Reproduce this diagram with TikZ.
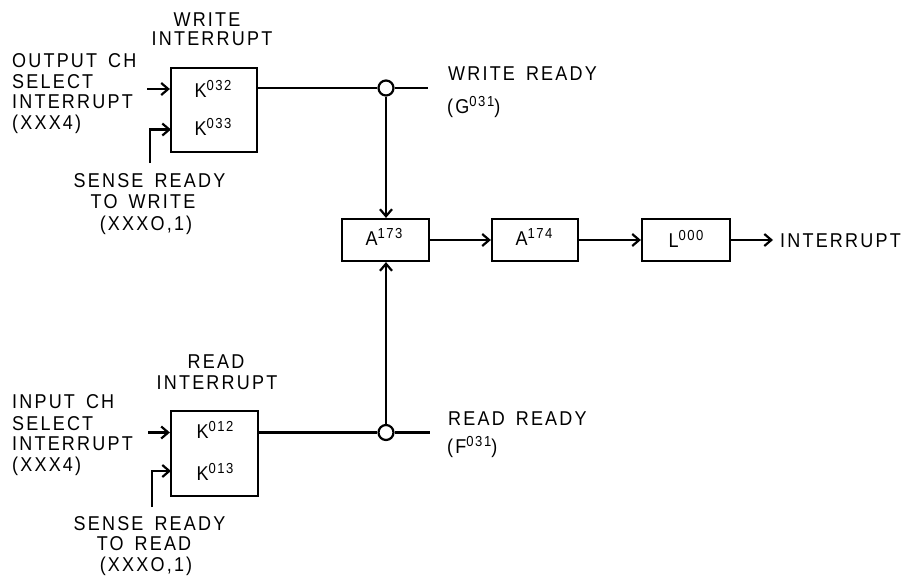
\documentclass[tikz,border=0pt]{standalone}
\usepackage{fontspec}
\setmainfont{Liberation Sans}[FakeStretch=0.9, LetterSpace=11]
\usetikzlibrary{arrows.meta}
\newcommand\sups[1]{\raisebox{6.5pt}{\fontsize{14.5}{14.5}\selectfont #1}}
\newcommand\wsp{\hspace{11pt}}
\tikzset{
  txt/.style={inner sep=0pt, font=\fontsize{20}{22}\selectfont},
  blk/.style={draw, line width=2.2pt, inner sep=0pt, minimum width=#1, minimum height=42pt},
  ln/.style={line width=2.2pt},
  arr/.style={line width=2.2pt, -{Straight Barb[length=7pt,width=12pt]}},
  dot/.style={circle, draw, line width=2.2pt, minimum size=15pt, inner sep=0pt, fill=white},
}
\begin{document}
\begin{tikzpicture}[x=1pt,y=-1pt]
\useasboundingbox[fill=white] (0,0) rectangle (904,581);

% boxes
\node[blk=86pt, minimum height=84pt] (kw) at (214,110) {};
\node[blk=87pt, minimum height=85pt] (kr) at (214.5,453.5) {};
\node[blk=87pt] (a173) at (385.5,240) {};
\node[blk=86pt] (a174) at (535,240) {};
\node[blk=88pt] (l000) at (686,240) {};

% box labels
\node[txt, anchor=base] (lk32) at (213,97) {K\sups{032}};
\node[txt, anchor=base] (lk33) at (213,135) {K\sups{033}};
\node[txt, anchor=base] (lk12) at (215,438) {K\sups{012}};
\node[txt, anchor=base] (lk13) at (215,480) {K\sups{013}};
\node[txt, anchor=base] (la173) at (384,245) {A\sups{173}};
\node[txt, anchor=base] (la174) at (534,245) {A\sups{174}};
\node[txt, anchor=base] (ll000) at (686,247) {L\sups{000}};

% coordinates
\coordinate (inw1) at (147,89);
\coordinate (inw2) at (150,163);
\coordinate (kw2) at (171,129.5);
\coordinate (inr1) at (148,432.5);
\coordinate (inr2) at (152,507);
\coordinate (kr2) at (171,471);
\coordinate (cwe) at (428,88);
\coordinate (cre) at (430,432.5);
\coordinate (intr) at (773,240);

% connectors
\draw[arr] (inw1) -- (kw.west |- inw1);
\draw[arr] (inw2) |- (kw2);
\draw[arr] (inr1) -- (kr.west |- inr1);
\draw[arr] (inr2) |- (kr2);

\node[dot] (cw) at (386,88) {};
\node[dot] (cr) at (386,432.5) {};

\draw[ln] (kw.east |- cw) -- (cw);
\draw[ln] (cw) -- (cwe);
\draw[ln] (kr.east |- cr) -- (cr);
\draw[ln] (cr) -- (cre);
\draw[arr] (cw) -- (cw |- a173.north);
\draw[arr] (cr) -- (cr |- a173.south);
\draw[arr] (a173) -- (a174);
\draw[arr] (a174) -- (l000);
\draw[arr] (l000) -- (intr);

% texts
\node[txt, anchor=base] (t1) at (207,26) {WRITE};
\node[txt, anchor=base] (t2) at (212,45) {INTERRUPT};
\node[txt, anchor=base west] (t3) at (12,67) {OUTPUT\wsp{}CH};
\node[txt, anchor=base west] (t4) at (12,88) {SELECT};
\node[txt, anchor=base west] (t5) at (12,108) {INTERRUPT};
\node[txt, anchor=base west] (t6) at (12,129) {(XXX4)};
\node[txt, anchor=base] (t7) at (149.5,187) {SENSE\wsp{}READY};
\node[txt, anchor=base] (t8) at (143,208) {TO\wsp{}WRITE};
\node[txt, anchor=base] (t9) at (146,230) {(XXXO,1)};

\node[txt, anchor=base] (t10) at (216,368) {READ};
\node[txt, anchor=base] (t11) at (217,389) {INTERRUPT};
\node[txt, anchor=base west] (t12) at (12,408) {INPUT\wsp{}CH};
\node[txt, anchor=base west] (t13) at (12,430) {SELECT};
\node[txt, anchor=base west] (t14) at (12,450) {INTERRUPT};
\node[txt, anchor=base west] (t15) at (12,471) {(XXX4)};
\node[txt, anchor=base] (t16) at (149.5,530) {SENSE\wsp{}READY};
\node[txt, anchor=base] (t17) at (144,550) {TO\wsp{}READ};
\node[txt, anchor=base] (t18) at (146,571) {(XXXO,1)};

\node[txt, anchor=base west] (t19) at (448,80) {WRITE\wsp{}READY};
\node[txt, anchor=base west] (t20) at (447,113) {(G\sups{031})};
\node[txt, anchor=base west] (t21) at (448,425) {READ\wsp{}READY};
\node[txt, anchor=base west] (t22) at (447,453) {(F\sups{031})};
\node[txt, anchor=base west] (t23) at (780,247) {INTERRUPT};
\end{tikzpicture}
\end{document}
